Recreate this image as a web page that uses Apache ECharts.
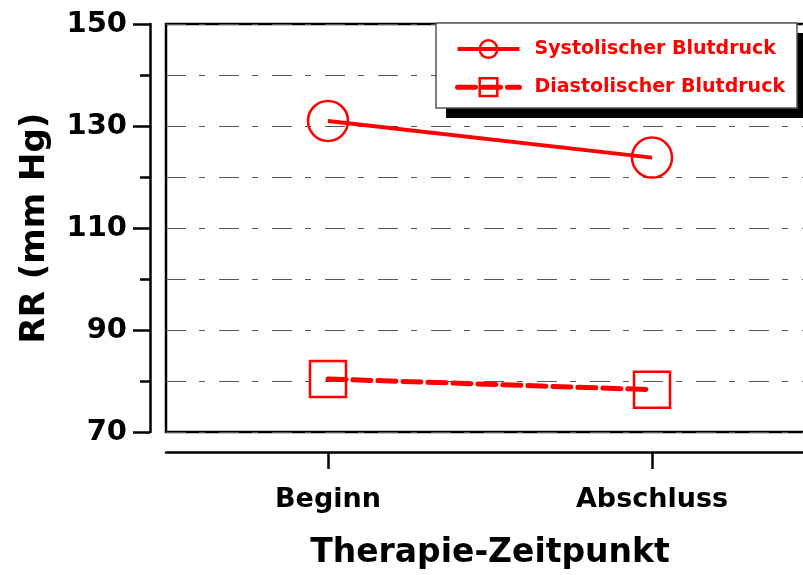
<!DOCTYPE html>
<html>
<head>
<meta charset="utf-8">
<script src="https://cdn.jsdelivr.net/npm/echarts@6/dist/echarts.min.js"></script>
<style>
  html, body { margin: 0; padding: 0; background: #fff; }
  #chart { width: 803px; height: 575px; }
</style>
</head>
<body>
<div id="chart"></div>
<script>
// data
var categories = ['Beginn', 'Abschluss'];
var systolic = [131.0, 123.8];
var diastolic = [80.4, 78.3];
var yMajorTicks = [70, 90, 110, 130, 150];
var yMinorTicks = [80, 100, 120, 140];

var red = '#ff0000';
var font = '"DejaVu Sans", sans-serif';
var gridDash = { color: '#555', width: 1, type: [20, 13, 6, 14] };

var chart = echarts.init(document.getElementById('chart'), null, { renderer: 'canvas' });

var option = {
  animation: false,
  backgroundColor: '#fff',
  grid: {
    show: true,
    left: 166,
    top: 24,
    width: 648,
    height: 408,
    outerBoundsMode: 'none',
    containLabel: false,
    borderColor: '#000',
    borderWidth: 2.5,
    backgroundColor: 'transparent'
  },
  // legend box: black shadow block, then white box on top
  graphic: [{
    type: 'rect',
    z: 3,
    shape: { x: 446, y: 33, width: 361, height: 85 },
    style: { fill: '#000' }
  }, {
    type: 'rect',
    z: 3,
    shape: { x: 436, y: 23, width: 361, height: 85 },
    style: { fill: '#fff', stroke: '#555', lineWidth: 1.5 }
  }],
  legend: {
    orient: 'vertical',
    left: 436,
    top: 23,
    padding: [16, 10, 10, 19],
    itemWidth: 62,
    itemHeight: 22,
    itemGap: 18,
    z: 5,
    lineStyle: { width: 'inherit', type: 'inherit' },
    itemStyle: { borderWidth: 2.5 },
    textStyle: {
      color: red,
      fontFamily: font,
      fontWeight: 'bold',
      fontSize: 19,
      padding: [0, 0, 0, 10]
    },
    data: ['Systolischer Blutdruck', 'Diastolischer Blutdruck']
  },
  xAxis: {
    type: 'category',
    data: categories,
    offset: 20,
    boundaryGap: true,
    name: 'Therapie-Zeitpunkt',
    nameLocation: 'middle',
    nameGap: 85,
    nameTextStyle: { fontFamily: font, fontWeight: 'bold', fontSize: 33, color: '#000' },
    axisLine: { show: true, lineStyle: { color: '#000', width: 2.5 } },
    axisTick: { show: true, interval: 0, alignWithLabel: true, length: 17, lineStyle: { color: '#000', width: 2.5 } },
    axisLabel: { margin: 34, fontFamily: font, fontWeight: 'bold', fontSize: 27, color: '#000' },
    splitLine: { show: false }
  },
  yAxis: [{
    type: 'value',
    min: 70,
    max: 150,
    interval: 10,
    offset: 16,
    name: 'RR (mm Hg)',
    nameLocation: 'middle',
    nameGap: 98,
    nameRotate: 90,
    nameTextStyle: { fontFamily: font, fontWeight: 'bold', fontSize: 34, color: '#000' },
    axisLine: { show: true, lineStyle: { color: '#000', width: 2.5 } },
    axisTick: { show: true, length: 17, customValues: yMajorTicks, lineStyle: { color: '#000', width: 2.5 } },
    axisLabel: { margin: 23, customValues: yMajorTicks, fontFamily: font, fontWeight: 'bold', fontSize: 29, color: '#000' },
    splitLine: { show: true, lineStyle: gridDash }
  }, {
    type: 'value',
    min: 70,
    max: 150,
    interval: 10,
    position: 'left',
    offset: 16,
    axisLine: { show: false },
    axisTick: { show: true, length: 10, customValues: yMinorTicks, lineStyle: { color: '#000', width: 2.5 } },
    axisLabel: { show: false },
    splitLine: { show: true, lineStyle: gridDash }
  }],
  series: [{
    name: 'Systolischer Blutdruck',
    type: 'line',
    data: systolic,
    symbol: 'circle',
    symbolSize: 40,
    showAllSymbol: true,
    lineStyle: { color: red, width: 4 },
    itemStyle: { color: 'transparent', borderColor: red, borderWidth: 2.5 },
    emphasis: { disabled: true }
  }, {
    name: 'Diastolischer Blutdruck',
    type: 'line',
    data: diastolic,
    symbol: 'rect',
    symbolSize: 36,
    showAllSymbol: true,
    lineStyle: { color: red, width: 5, type: [18, 7], cap: 'round' },
    itemStyle: { color: 'transparent', borderColor: red, borderWidth: 2.5 },
    emphasis: { disabled: true }
  }]
};

chart.setOption(option);
</script>
</body>
</html>
